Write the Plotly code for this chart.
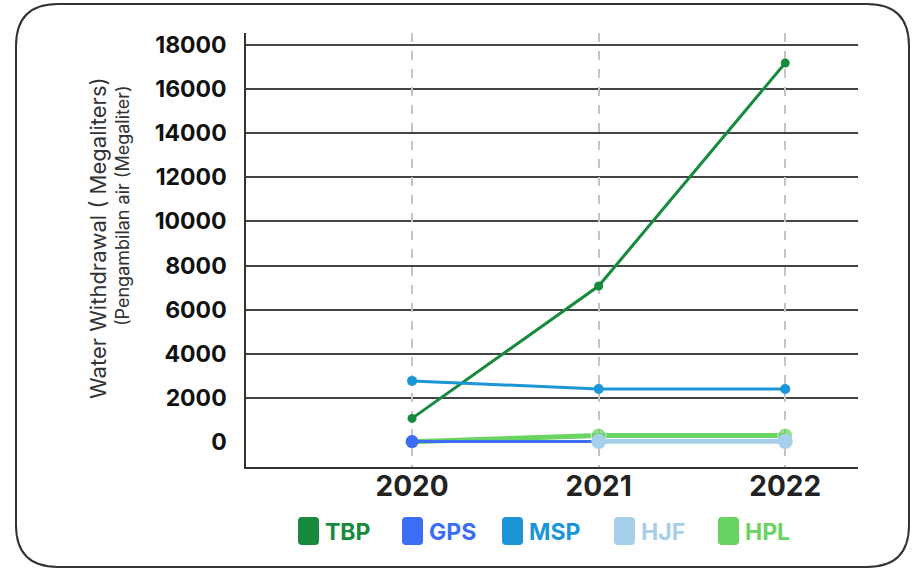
import plotly.graph_objects as go

years = [2020, 2021, 2022]
year_labels = ["2020", "2021", "2022"]
tbp = [1070, 7070, 17180]
gps = [20, 20, 20]
msp = [2770, 2400, 2400]
hjf = [None, 30, 30]
hpl = [10, 290, 290]
y_ticks = [0, 2000, 4000, 6000, 8000, 10000, 12000, 14000, 16000, 18000]
legend_names = ["TBP", "GPS", "MSP", "HJF", "HPL"]

colors = {"TBP": "#178a3e", "GPS": "#3d6cf5", "MSP": "#1b95d5", "HJF": "#a6d0ea", "HPL": "#69d462"}
data = {"TBP": tbp, "GPS": gps, "MSP": msp, "HJF": hjf, "HPL": hpl}
styles = {"TBP": (3, 9), "GPS": (3, 13), "MSP": (3, 10), "HPL": (5, [9, 15, 15]), "HJF": (5, 15)}
draw_order = ["TBP", "MSP", "HPL", "GPS", "HJF"]

# plot area in pixels
L, R, T, B = 246, 858, 33, 467
W, H = 915, 569
pw, ph = R - L, B - T

def px(x):
    return (x - L) / pw

def py(y):
    return (B - y) / ph

fig = go.Figure()
for name in draw_order:
    lw, ms = styles[name]
    fig.add_trace(go.Scatter(
        x=years, y=data[name], mode="lines+markers", name=name,
        line=dict(color=colors[name], width=lw),
        marker=dict(color=colors[name], size=ms),
        showlegend=False,
    ))

def rounded_rect(x0, y0, x1, y1, r):
    return (
        f"M {px(x0 + r)},{py(y0)} L {px(x1 - r)},{py(y0)} "
        f"Q {px(x1)},{py(y0)} {px(x1)},{py(y0 + r)} "
        f"L {px(x1)},{py(y1 - r)} Q {px(x1)},{py(y1)} {px(x1 - r)},{py(y1)} "
        f"L {px(x0 + r)},{py(y1)} Q {px(x0)},{py(y1)} {px(x0)},{py(y1 - r)} "
        f"L {px(x0)},{py(y0 + r)} Q {px(x0)},{py(y0)} {px(x0 + r)},{py(y0)} Z"
    )

# outer rounded border
fig.add_shape(type="path", path=rounded_rect(16, 4, 909, 567, 42),
              xref="paper", yref="paper",
              line=dict(color="#333333", width=2), layer="below")

# custom legend
legend_left = [298, 402, 502, 614, 718]
for name, lx in zip(legend_names, legend_left):
    fig.add_shape(type="path", path=rounded_rect(lx, 517, lx + 21, 545, 4),
                  xref="paper", yref="paper", fillcolor=colors[name],
                  line=dict(width=0))
    fig.add_annotation(text=f"<b>{name}</b>", x=px(lx + 25), y=py(532),
                       xref="paper", yref="paper", xanchor="left", yanchor="middle",
                       showarrow=False,
                       font=dict(family="Inter", size=23, color=colors[name]))

fig.add_annotation(text="Water Withdrawal ( Megaliters)", textangle=-90,
                   x=px(98), y=py(238), xref="paper", yref="paper",
                   xanchor="center", yanchor="middle",
                   showarrow=False, font=dict(family="Inter", size=22, color="#333333"))
fig.add_annotation(text="(Pengambilan air (Megaliter)", textangle=-90,
                   x=px(122), y=py(206), xref="paper", yref="paper",
                   xanchor="center", yanchor="middle",
                   showarrow=False, font=dict(family="Inter", size=18, color="#333333"))

fig.update_layout(
    width=W, height=H,
    margin=dict(l=L, r=W - R, t=T, b=H - B, pad=0),
    paper_bgcolor="white", plot_bgcolor="white",
    font=dict(family="Inter", color="#222222"),
    showlegend=False,
    xaxis=dict(range=[2019.11, 2022.39], tickvals=years, ticktext=year_labels,
               showgrid=True, gridcolor="#c4c4c4", gridwidth=2, griddash="dash",
               showline=True, linecolor="#333333", linewidth=1.5,
               ticks="", zeroline=False, ticklabelstandoff=-6,
               tickfont=dict(family="Inter", size=28, weight="bold", color="#222222")),
    yaxis=dict(range=[-1133, 18540], tickvals=y_ticks, ticktext=[str(v) for v in y_ticks],
               showgrid=False, zeroline=False,
               minor=dict(tickvals=y_ticks[1:], showgrid=True, gridcolor="#444444", gridwidth=1.5, ticks=""),
               showline=True, linecolor="#333333", linewidth=1.5,
               ticks="", ticklabelstandoff=13,
               tickfont=dict(family="Inter", size=23, weight="bold", color="#111111")),
)

fig.write_html("out.html", config={"displayModeBar": False},
               post_script="document.body.style.margin='0';")
